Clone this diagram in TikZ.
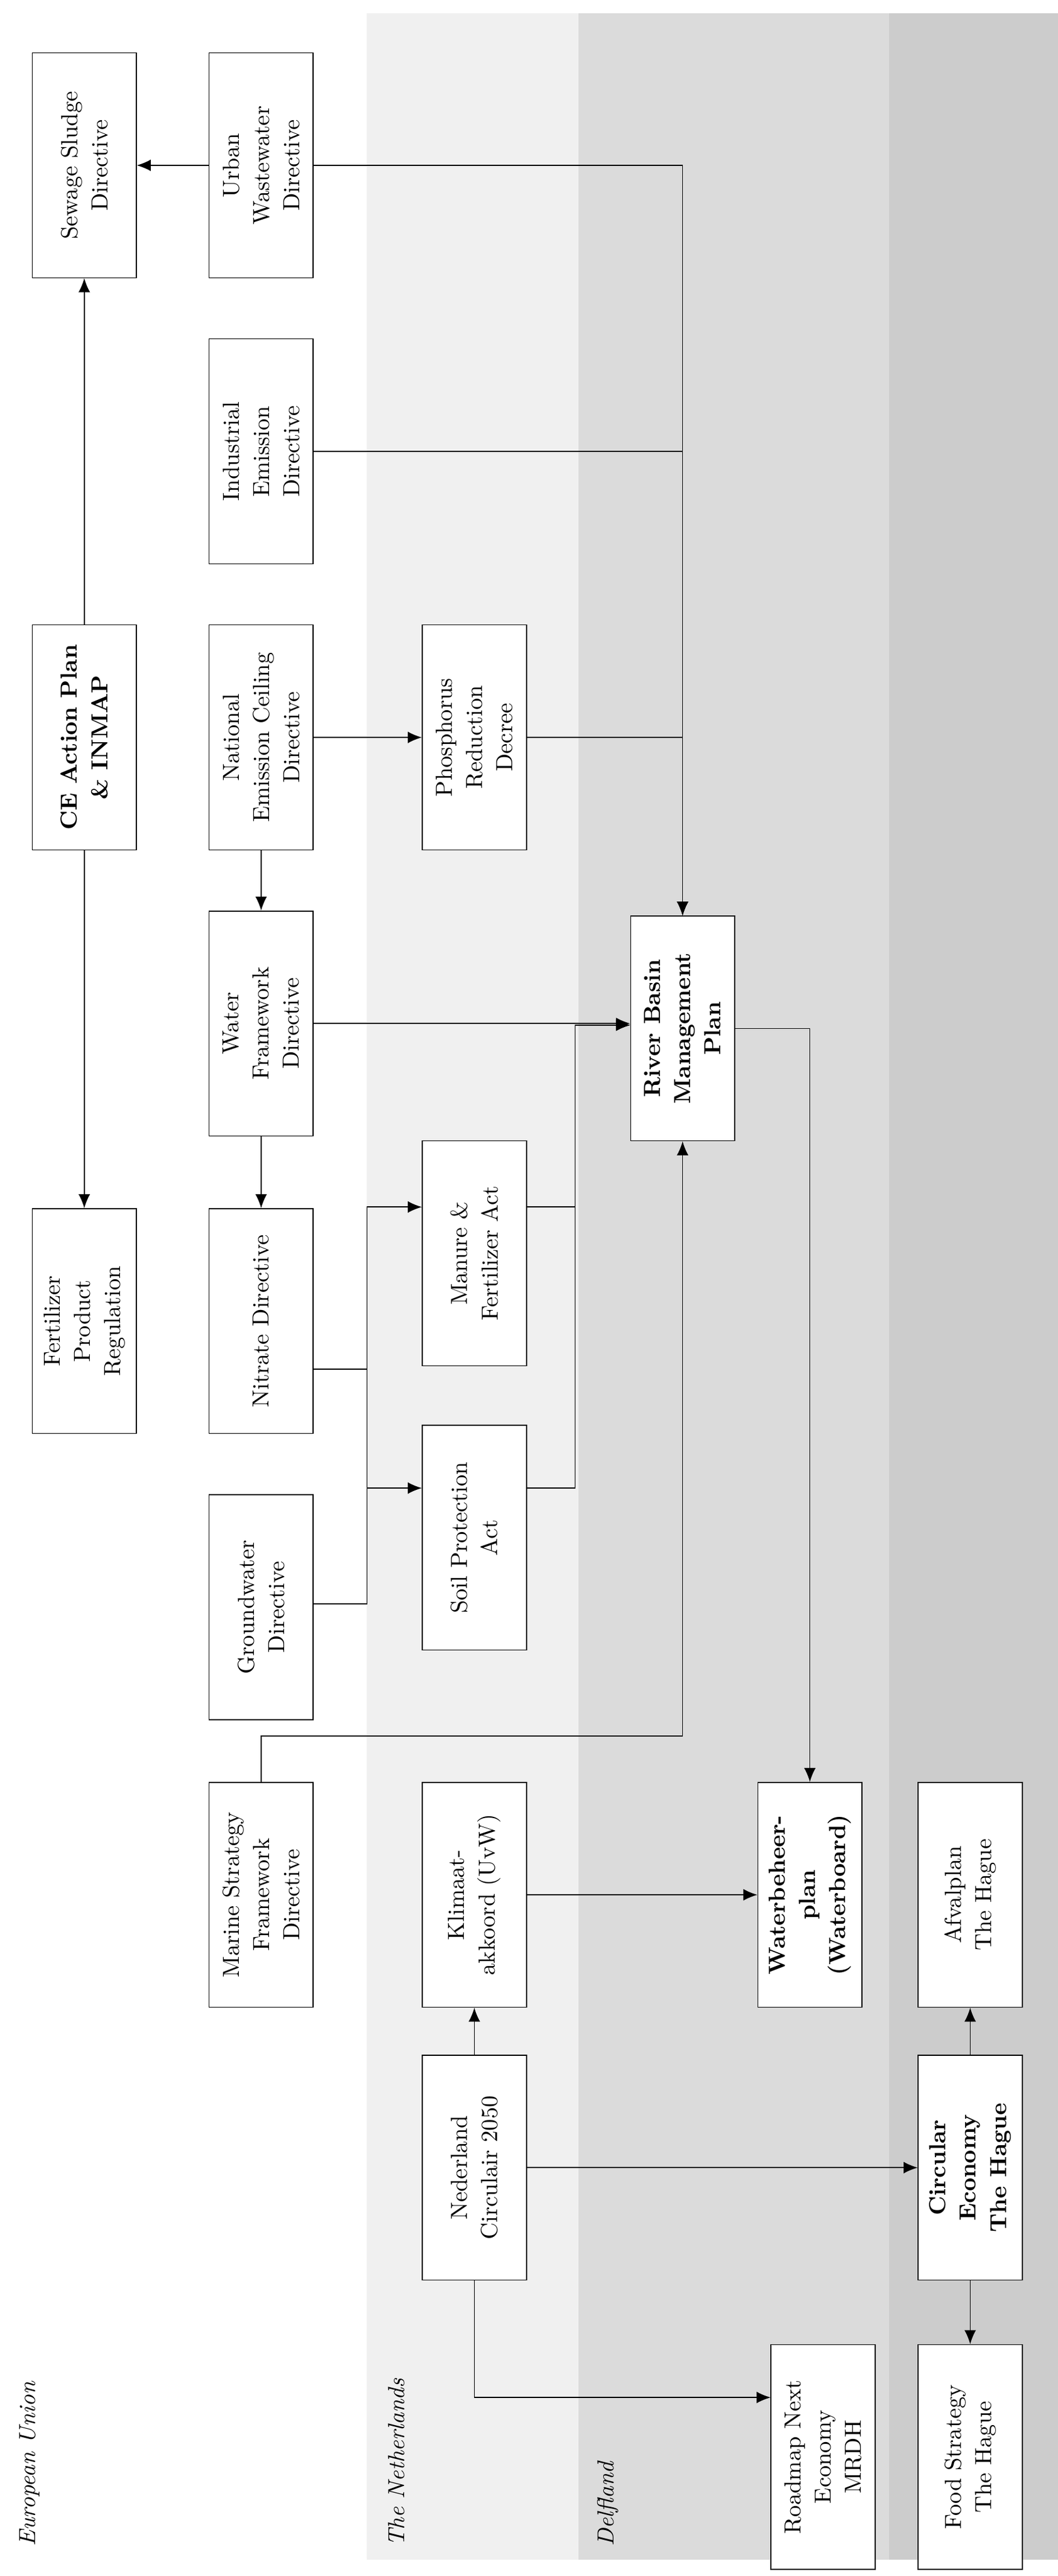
\documentclass[tikz,border=0pt]{standalone}
\usetikzlibrary{arrows.meta}
\tikzset{
	box/.style={draw, fill=white, rotate=90, align=center, minimum width=3.4cm, minimum height=1.575cm, inner sep=1pt, font=\fontsize{10}{13}\selectfont},
	bbox/.style={box, font=\fontsize{10}{13}\selectfont\bfseries},
	region/.style={rotate=90, anchor=west, font=\fontsize{10}{13}\selectfont\itshape}
}
\begin{document}
\begin{tikzpicture}[x=0.025cm, y=-0.025cm, -{Latex[length=6pt,width=5pt]}, thin]
	\useasboundingbox (0,0) rectangle (640,1558);
	\fill[gray!12] (222,8) rectangle (350,1548);
	\fill[gray!28] (350,8) rectangle (538,1548);
	\fill[gray!40] (538,8) rectangle (640,1548);

	\node[region] at (18,1545) {European Union};
	\node[region] at (240,1545) {The Netherlands};
	\node[region] at (368,1545) {Delfland};

	\node[box] (ssd) at (51,100) {Sewage Sludge\\Directive};
	\node[box] (uwd) at (158,100) {Urban\\Wastewater\\Directive};
	\node[box] (ied) at (158,273) {Industrial\\Emission\\Directive};
	\node[bbox] (ce) at (51,446) {CE Action Plan\\\& INMAP};
	\node[box] (nec) at (158,446) {National\\Emission Ceiling\\Directive};
	\node[box] (prd) at (287,446) {Phosphorus\\Reduction\\Decree};
	\node[box] (wfd) at (158,619) {Water\\Framework\\Directive};
	\node[bbox] (rbmp) at (413,622) {River Basin\\Management\\Plan};
	\node[box] (fpr) at (51,799) {Fertilizer\\Product\\Regulation};
	\node[box] (nd) at (158,799) {Nitrate Directive};
	\node[box] (mfa) at (287,758) {Manure \&\\Fertilizer Act};
	\node[box] (gwd) at (158,972) {Groundwater\\Directive};
	\node[box] (spa) at (287,930) {Soil Protection\\Act};
	\node[box] (msfd) at (158,1146) {Marine Strategy\\Framework\\Directive};
	\node[box] (ka) at (287,1146) {Klimaat-\\akkoord (UvW)};
	\node[bbox] (wbp) at (490,1146) {Waterbeheer-\\plan\\(Waterboard)};
	\node[box] (nc) at (287,1311) {Nederland\\Circulair 2050};
	\node[box] (afv) at (587,1146) {Afvalplan\\The Hague};
	\node[bbox] (ceh) at (587,1311) {Circular\\Economy\\The Hague};
	\node[box] (rne) at (498,1486) {Roadmap Next\\Economy\\MRDH};
	\node[box] (fst) at (587,1486) {Food Strategy\\The Hague};

	\coordinate (j1) at (222,730);
	\coordinate (j2) at (222,900);
	\coordinate (j3) at (348,620);
	\coordinate (j4) at (413,1050);
	\coordinate (j5) at (287,1450);

	\draw (ce.east) to (ssd.west);
	\draw (ce.west) to (fpr.east);
	\draw (uwd.north) to (ssd.south);
	\draw (uwd.south) -| (rbmp.east);
	\draw (ied.south) -| (rbmp.east);
	\draw (prd.south) -| (rbmp.east);
	\draw (nec.south) to (prd.north);
	\draw (nec.west) to (nec.west |- wfd.east);
	\draw (wfd.west) to (wfd.west |- nd.east);
	\draw (wfd.south) to (wfd.south -| rbmp.north);

	\draw[-] (nd.south |- 0,828) -- (222,828);
	\draw[-] (gwd.south |- 0,970) -| (j1);
	\draw (j1) to (j1 -| mfa.north);
	\draw (j2) to (j2 -| spa.north);
	\draw (mfa.south |- j1) -| (j3) -- (j3 -| rbmp.north);
	\draw (spa.south |- j2) -| (j3) -- (j3 -| rbmp.north);

	\draw (msfd.east) |- (j4) -- (j4 |- rbmp.west);
	\draw (rbmp.south) -| (wbp.east);
	\draw (ka.south) to (ka.south -| wbp.north);
	\draw (nc.east) to (nc.east |- ka.west);
	\draw (nc.south) to (nc.south -| ceh.north);
	\draw (nc.west) |- (j5 -| rne.north);
	\draw (ceh.east) to (ceh.east |- afv.west);
	\draw (ceh.west) to (ceh.west |- fst.east);

\end{tikzpicture}
\end{document}
